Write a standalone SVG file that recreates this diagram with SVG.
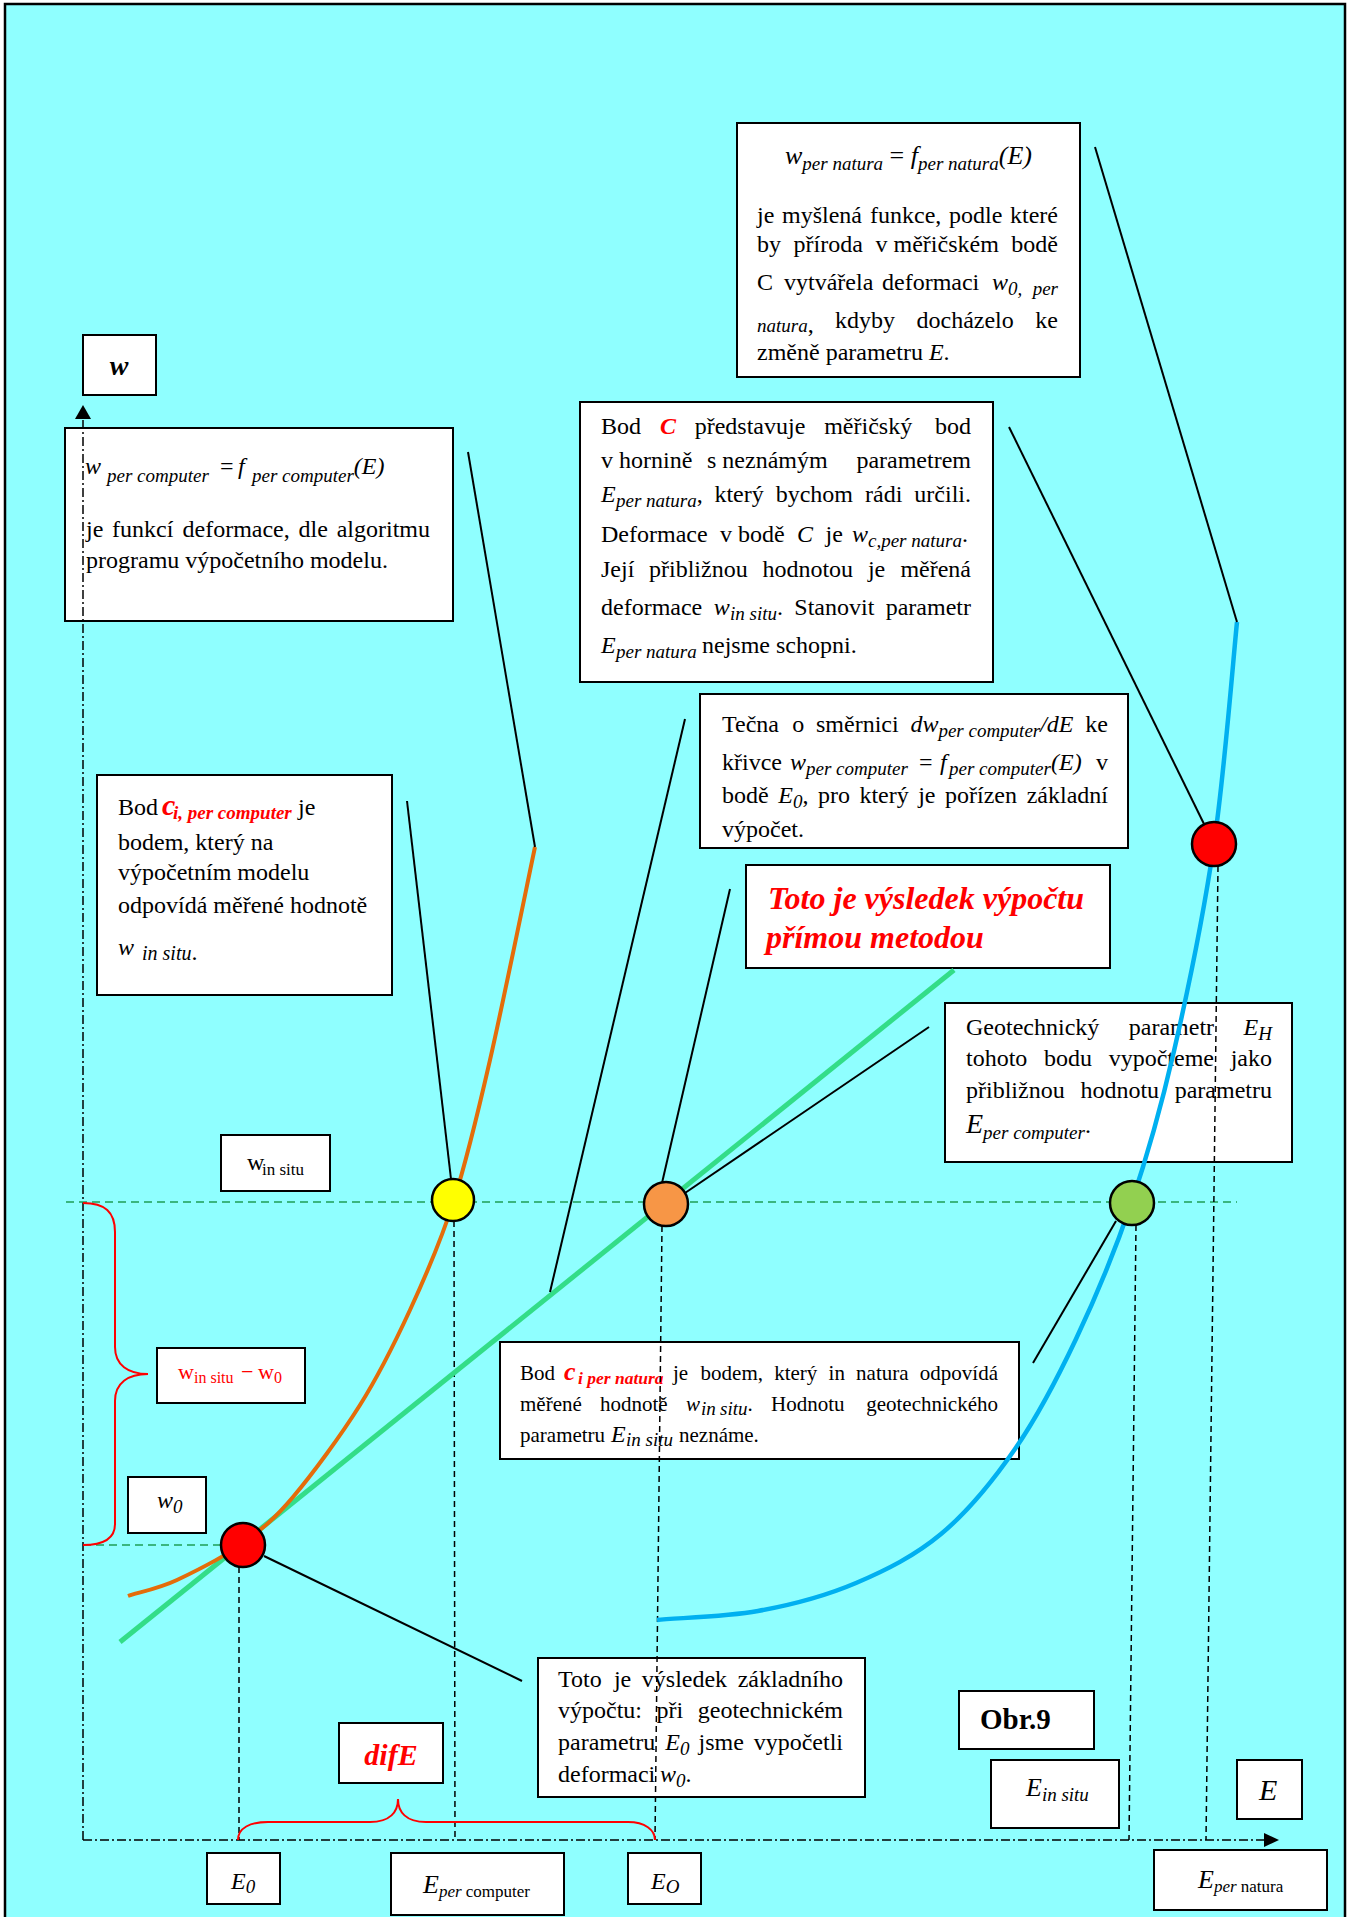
<svg xmlns="http://www.w3.org/2000/svg" width="1351" height="1917" viewBox="0 0 1351 1917" font-family="'Liberation Serif', 'Times New Roman', serif" font-size="24">
<style>
text{font-family:"Liberation Serif","Times New Roman",serif;fill:#000}
.bx{fill:#fff;stroke:#000;stroke-width:2}
.i{font-style:italic}
.s{font-size:19px;font-style:italic}
.r{fill:#f00}
.bi{font-weight:bold;font-style:italic}
.e{text-anchor:end}
.m{text-anchor:middle}
.ld{stroke:#000;stroke-width:2;fill:none}
.vd{stroke:#000;stroke-width:1.5;stroke-dasharray:6 4;fill:none}
.ax{stroke:#000;stroke-width:1.5;stroke-dasharray:9 3 2 3;fill:none}
.gd{stroke:#1f9f55;stroke-width:1.5;stroke-dasharray:8 5;fill:none}
.cc{stroke:#000;stroke-width:2.5}
</style>
<rect x="0" y="0" width="1351" height="1917" fill="#fff"/>
<rect x="5" y="4" width="1340" height="1930" fill="#8fffff" stroke="#000" stroke-width="2.5"/>

<!-- nodes -->
<g id="n-w"><rect class="bx" x="83" y="335" width="73" height="60"/><text class="bi m" x="119" y="375" font-size="28">w</text></g>

<g id="n-wcomputer"><rect class="bx" x="65" y="428" width="388" height="193"/>
<text y="474"><tspan class="i" x="85">w</tspan><tspan class="s" x="107" dy="8">per computer</tspan><tspan x="220" dy="-8">=</tspan><tspan class="i" x="238">f</tspan><tspan class="s" x="252" dy="8">per computer</tspan><tspan class="i" dy="-8">(E)</tspan></text>
<text y="537"><tspan x="86">je</tspan><tspan x="112">funkcí</tspan><tspan x="182.5">deformace,</tspan><tspan x="298.5">dle</tspan></text><text class="e" x="430" y="537">algoritmu</text>
<text x="86" y="568">programu výpočetního modelu.</text>
</g>

<g id="n-wnatura"><rect class="bx" x="737" y="123" width="343" height="254"/>
<text y="164" font-size="26"><tspan class="i" x="785">w</tspan><tspan class="s" dy="6">per natura</tspan><tspan dy="-6"> = </tspan><tspan class="i">f</tspan><tspan class="s" dy="6">per natura</tspan><tspan class="i" dy="-6">(E)</tspan></text>
<text y="223"><tspan x="757">je</tspan><tspan x="782">myšlená</tspan><tspan x="870">funkce,</tspan><tspan x="949">podle</tspan></text><text class="e" x="1058" y="223">které</text>
<text y="252"><tspan x="757">by</tspan><tspan x="793.5">příroda</tspan><tspan x="875.5">v měřičském</tspan></text><text class="e" x="1058" y="252">bodě</text>
<text y="290"><tspan x="757">C</tspan><tspan x="784">vytvářela</tspan><tspan x="882">deformaci</tspan><tspan class="i" x="992">w</tspan><tspan class="s" x="1008" dy="5">0,</tspan></text><text class="s e" x="1058" y="295">per</text>
<text y="332"><tspan class="s" x="757">natura</tspan><tspan>,</tspan></text><text y="328"><tspan x="835">kdyby</tspan><tspan x="916.5">docházelo</tspan></text><text class="e" x="1058" y="328">ke</text>
<text x="757" y="360">změně parametru <tspan class="i">E</tspan>.</text>
</g>

<g id="n-c"><rect class="bx" x="580" y="402" width="413" height="280"/>
<text y="434"><tspan x="601">Bod</tspan><tspan class="bi r" x="660">C</tspan><tspan x="694.7">představuje</tspan><tspan x="824.2">měřičský</tspan></text><text class="e" x="971" y="434">bod</text>
<text y="468"><tspan x="601">v hornině</tspan><tspan x="707">s neznámým</tspan></text><text class="e" x="971" y="468">parametrem</text>
<text y="502"><tspan class="i" x="601">E</tspan><tspan class="s" x="616" dy="5">per natura</tspan><tspan dy="-5">,</tspan><tspan x="714.4">který</tspan><tspan x="775.7">bychom</tspan><tspan x="865">rádi</tspan></text><text class="e" x="971" y="502">určili.</text>
<text y="542"><tspan x="601">Deformace</tspan><tspan x="720">v bodě</tspan><tspan class="i" x="797">C</tspan><tspan x="825.5">je</tspan><tspan class="i" x="852">w</tspan><tspan class="s" x="868" dy="5">c,per natura</tspan><tspan dy="-5">.</tspan></text>
<text y="577"><tspan x="601">Její</tspan><tspan x="649">přibližnou</tspan><tspan x="762.4">hodnotou</tspan><tspan x="867.9">je</tspan></text><text class="e" x="971" y="577">měřená</text>
<text y="615"><tspan x="601">deformace</tspan><tspan class="i" x="713.8">w</tspan><tspan class="s" x="730" dy="5">in situ</tspan><tspan dy="-5">.</tspan><tspan x="794.3">Stanovit</tspan></text><text class="e" x="971" y="615">parametr</text>
<text y="653"><tspan class="i" x="601">E</tspan><tspan class="s" x="616" dy="5">per natura</tspan><tspan x="702" dy="-5">nejsme schopni.</tspan></text>
</g>

<g id="n-tecna"><rect class="bx" x="700" y="694" width="428" height="154"/>
<text y="732"><tspan x="722">Tečna</tspan><tspan x="792.3">o</tspan><tspan x="816">směrnici</tspan><tspan class="i" x="910.4">dw</tspan><tspan class="s" x="938.4" dy="5">per computer</tspan><tspan class="i" x="1040.2" dy="-5">/dE</tspan></text><text class="e" x="1108" y="732">ke</text>
<text y="770"><tspan x="722">křivce</tspan><tspan class="i" x="790">w</tspan><tspan class="s" x="806" dy="5">per computer</tspan><tspan x="919" dy="-5">=</tspan><tspan class="i" x="940">f</tspan><tspan class="s" x="949" dy="5">per computer</tspan><tspan class="i" x="1051" dy="-5">(E)</tspan></text><text class="e" x="1108" y="770">v</text>
<text y="803"><tspan x="722">bodě</tspan><tspan class="i" x="778.2">E</tspan><tspan class="s" x="793" dy="5">0</tspan><tspan dy="-5">,</tspan><tspan x="817.9">pro</tspan><tspan x="859.4">který</tspan><tspan x="918.2">je</tspan><tspan x="945">pořízen</tspan></text><text class="e" x="1108" y="803">základní</text>
<text x="722" y="837">výpočet.</text>
</g>

<g id="n-prima"><rect class="bx" x="746" y="865" width="364" height="103"/>
<text class="bi r" font-size="32" x="768" y="909">Toto je výsledek výpočtu</text>
<text class="bi r" font-size="32" x="766" y="948">přímou metodou</text>
</g>

<g id="n-geo"><rect class="bx" x="945" y="1003" width="347" height="159"/>
<text y="1035"><tspan x="966">Geotechnický</tspan><tspan x="1128.8">parametr</tspan><tspan class="i" x="1243.6">E</tspan><tspan class="s" x="1258.3" dy="5">H</tspan></text>
<text y="1066"><tspan x="966">tohoto</tspan><tspan x="1044">bodu</tspan><tspan x="1108.7">vypočteme</tspan></text><text class="e" x="1272" y="1066">jako</text>
<text y="1098"><tspan x="966">přibližnou</tspan><tspan x="1080.4">hodnotu</tspan></text><text class="e" x="1272" y="1098">parametru</text>
<text y="1133"><tspan class="i" x="966" font-size="28">E</tspan><tspan class="s" dy="6">per computer</tspan><tspan dy="-6">.</tspan></text>
</g>

<g id="n-cicomp"><rect class="bx" x="97" y="775" width="295" height="220"/>
<text y="815"><tspan x="118">Bod</tspan><tspan class="bi r" x="162" font-size="30">c</tspan><tspan class="bi r" x="173" dy="4" font-size="19">i, per computer</tspan><tspan x="298" dy="-4">je</tspan></text>
<text x="118" y="850">bodem, který na</text>
<text x="118" y="880">výpočetním modelu</text>
<text x="118" y="913">odpovídá měřené hodnotě</text>
<text y="955"><tspan class="i" x="118">w</tspan><tspan class="i" x="142" dy="5" font-size="20">in situ</tspan><tspan>.</tspan></text>
</g>

<g id="n-winsitu"><rect class="bx" x="221" y="1135" width="109" height="56"/>
<text y="1170"><tspan x="247">w</tspan><tspan x="262" dy="5" font-size="17">in situ</tspan></text>
</g>

<g id="n-diffw"><rect class="bx" x="157" y="1348" width="148" height="55"/>
<text class="r" y="1379" font-size="22"><tspan x="178">w</tspan><tspan x="194" dy="4" font-size="16">in situ</tspan><tspan x="241" dy="-4">−</tspan><tspan x="258">w</tspan><tspan x="274" dy="4" font-size="16">0</tspan></text>
</g>

<g id="n-w0"><rect class="bx" x="128" y="1477" width="78" height="56"/>
<text y="1508"><tspan class="i" x="157">w</tspan><tspan class="s" x="173" dy="5" font-size="17">0</tspan></text>
</g>

<g id="n-cinatura"><rect class="bx" x="500" y="1342" width="519" height="117"/>
<text y="1380" font-size="21"><tspan x="520">Bod</tspan><tspan class="bi r" x="564" font-size="26">c</tspan><tspan class="bi r" x="578" dy="4" font-size="17.5">i per natura</tspan><tspan x="673" dy="-4">je</tspan><tspan x="700.6">bodem,</tspan><tspan x="774.2">který</tspan><tspan x="828.6">in</tspan><tspan x="856.1">natura</tspan></text><text class="e" x="998" y="1380" font-size="21">odpovídá</text>
<text y="1411" font-size="21"><tspan x="520">měřené</tspan><tspan x="600">hodnotě</tspan><tspan class="i" x="686">w</tspan><tspan class="s" x="701" dy="4" font-size="15">in</tspan><tspan class="s" x="720" font-size="15">situ</tspan><tspan dy="-4">.</tspan><tspan x="771">Hodnotu</tspan></text><text class="e" x="998" y="1411" font-size="21">geotechnického</text>
<text y="1442" font-size="21"><tspan x="520">parametru</tspan><tspan class="i" x="611" font-size="24">E</tspan><tspan class="s" x="626" dy="4" font-size="15">in situ</tspan><tspan x="679" dy="-4">neznáme.</tspan></text>
</g>

<g id="n-zaklad"><rect class="bx" x="538" y="1658" width="327" height="139"/>
<text y="1687"><tspan x="558">Toto</tspan><tspan x="613.9">je</tspan><tspan x="641.8">výsledek</tspan></text><text class="e" x="843" y="1687">základního</text>
<text y="1718"><tspan x="558">výpočtu:</tspan><tspan x="656.5">při</tspan></text><text class="e" x="843" y="1718">geotechnickém</text>
<text y="1750"><tspan x="558">parametru</tspan><tspan class="i" x="665.3">E</tspan><tspan class="s" x="680" dy="5" font-size="17">0</tspan><tspan x="698.5" dy="-5">jsme</tspan></text><text class="e" x="843" y="1750">vypočetli</text>
<text y="1782"><tspan x="558">deformaci</tspan><tspan class="i" x="660">w</tspan><tspan class="s" x="676" dy="5" font-size="17">0</tspan><tspan dy="-5">.</tspan></text>
</g>

<g id="n-dife"><rect class="bx" x="339" y="1723" width="104" height="60"/><text class="bi r m" x="391" y="1765" font-size="30">difE</text></g>
<g id="n-obr"><rect class="bx" x="959" y="1691" width="135" height="58"/><text x="980" y="1729" font-size="29" font-weight="bold">Obr.9</text></g>
<g id="n-einsitu"><rect class="bx" x="991" y="1760" width="128" height="68"/><text y="1796"><tspan class="i" x="1026" font-size="26">E</tspan><tspan class="s" dy="5" font-size="17">in situ</tspan></text></g>
<g id="n-e"><rect class="bx" x="1237" y="1760" width="65" height="59"/><text class="i" x="1259" y="1800" font-size="30">E</text></g>
<g id="n-enatura"><rect class="bx" x="1154" y="1850" width="173" height="60"/><text y="1888"><tspan class="i" x="1198" font-size="26">E</tspan><tspan dy="4" font-size="17"><tspan class="i">per</tspan> natura</tspan></text></g>
<g id="n-e0"><rect class="bx" x="207" y="1853" width="73" height="51"/><text y="1889"><tspan class="i" x="231">E</tspan><tspan class="s" dy="4" font-size="17">0</tspan></text></g>
<g id="n-epc"><rect class="bx" x="391" y="1853" width="173" height="62"/><text y="1893"><tspan class="i" x="423" font-size="26">E</tspan><tspan dy="4" font-size="17"><tspan class="i">per</tspan> computer</tspan></text></g>
<g id="n-eo"><rect class="bx" x="628" y="1853" width="73" height="51"/><text y="1889"><tspan class="i" x="651">E</tspan><tspan class="s" dy="4" font-size="17">O</tspan></text></g>

<!-- graph -->
<g id="graph">
<path class="ax" d="M83,1840 L83,416"/>
<path d="M83,405 L75,419 L91,419 Z" fill="#000"/>
<path class="ax" d="M83,1840 L1266,1840"/>
<path d="M1279,1840 L1264,1833 L1264,1847 Z" fill="#000"/>
<path class="gd" d="M66,1202 L1237,1202"/>
<path class="gd" d="M83,1545 L221,1545"/>
<path class="vd" d="M239,1567 L239,1840"/>
<path class="vd" d="M454,1221 L455,1840"/>
<path class="vd" d="M662,1226 L655,1840"/>
<path class="vd" d="M1136,1225 L1129,1840"/>
<path class="vd" d="M1218,866 L1206,1840"/>
<path d="M83,1203 C105,1203 115,1212 115,1232 L115,1347 C115,1365 128,1374 148,1374 C128,1374 115,1383 115,1401 L115,1524 C115,1538 105,1545 83,1545" fill="none" stroke="#f00" stroke-width="2"/>
<path d="M238,1840 C238,1828 250,1822 268,1822 L370,1822 C390,1822 398,1812 398,1799 C398,1812 406,1822 426,1822 L628,1822 C645,1822 655,1830 655,1840" fill="none" stroke="#f00" stroke-width="2"/>
<path d="M120,1642 L954,970" stroke="#33dd88" stroke-width="5" fill="none"/>
<path d="M128,1596 C136,1593 158,1589 177,1580 C196,1571 224,1557 243,1543 C262,1529 273.5,1520 293,1497 C312.5,1474 340.5,1436 360,1405 C379.5,1374 394.3,1344 410,1310 C425.7,1276 440.7,1242 454,1200 C467.3,1158 476.5,1119 490,1060 C503.5,1001 527.5,882.5 535,847" stroke="#e46c0a" stroke-width="4" fill="none"/>
<path d="M657,1620 C674,1618 725,1617 758,1611 C791,1605 825.5,1596 856,1583 C886.5,1570 914.5,1556 941,1534 C967.5,1512 992.5,1481.5 1015,1449 C1037.5,1416.5 1056.7,1379.8 1076,1339 C1095.3,1298.2 1114.7,1252 1131,1204 C1147.3,1156 1160.2,1111 1174,1051 C1187.8,991 1203.5,915.5 1214,844 C1224.5,772.5 1233.2,659 1237,622" stroke="#00b0f0" stroke-width="4.5" fill="none"/>
</g>

<!-- connectors -->
<g id="connectors">
<line class="ld" x1="468" y1="452" x2="535" y2="847"/>
<line class="ld" x1="407" y1="801" x2="451" y2="1179"/>
<line class="ld" x1="685" y1="719" x2="550" y2="1292"/>
<line class="ld" x1="730" y1="889" x2="662" y2="1183"/>
<line class="ld" x1="929" y1="1027" x2="685" y2="1193"/>
<line class="ld" x1="1009" y1="427" x2="1204" y2="824"/>
<line class="ld" x1="1095" y1="147" x2="1237" y2="622"/>
<line class="ld" x1="1033" y1="1363" x2="1116" y2="1221"/>
<line class="ld" x1="264" y1="1556" x2="522" y2="1681"/>
</g>

<!-- points -->
<g id="p-c0"><circle class="cc" cx="243" cy="1545" r="22" fill="#f00"/></g>
<g id="p-yellow"><circle class="cc" cx="453" cy="1200" r="21" fill="#ff0"/></g>
<g id="p-orange"><circle class="cc" cx="666" cy="1204" r="22" fill="#f79646"/></g>
<g id="p-green"><circle class="cc" cx="1132" cy="1203" r="22" fill="#92d050"/></g>
<g id="p-C"><circle class="cc" cx="1214" cy="844" r="22" fill="#f00"/></g>
</svg>
